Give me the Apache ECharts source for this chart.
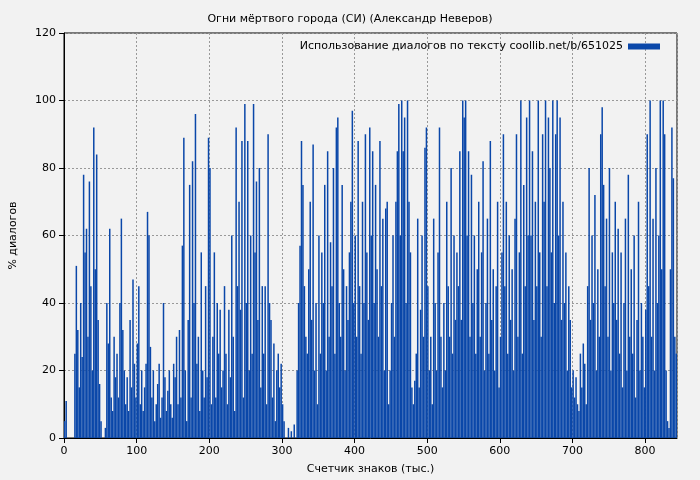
<!DOCTYPE html>
<html><head><meta charset="utf-8">
<script src="https://cdn.jsdelivr.net/npm/echarts@6/dist/echarts.min.js"></script>
<style>html,body{margin:0;background:#f2f2f2}#c{width:700px;height:480px}</style>
</head><body><div id="c"></div>
<script>
const title = "Огни мёртвого города (СИ) (Александр Неверов)";
const seriesName = "Использование диалогов по тексту coollib.net/b/651025";
const xName = "Счетчик знаков (тыс.)";
const yName = "% диалогов";
// values at x = 1,3,5,... (thousand chars), step 2
const values = [
5,11,0,0,0,0,0,25,51,32,
15,40,24,78,55,62,30,76,45,20,
92,50,84,35,16,5,0,0,3,40,
28,62,12,8,30,18,25,12,40,65,
32,20,10,18,8,35,15,47,22,12,
28,45,10,20,8,15,22,67,60,27,
12,20,5,10,16,22,6,12,40,18,
8,14,20,10,6,22,18,30,10,32,
12,57,89,20,5,35,75,12,82,40,
96,22,30,8,55,20,12,45,18,89,
80,10,30,55,12,40,25,38,15,20,
45,25,10,38,18,60,30,8,92,45,
70,38,88,12,99,40,88,20,60,25,
99,55,76,35,80,15,45,25,45,10,
90,40,35,12,28,5,20,25,15,22,
10,5,0,0,3,0,2,0,4,0,
20,40,57,88,75,45,30,25,50,70,
35,87,20,40,10,60,25,55,40,75,
20,85,30,58,45,80,25,92,95,40,
30,75,50,20,45,35,55,70,97,40,
60,30,88,45,25,70,40,90,55,35,
92,60,85,40,75,50,30,88,45,65,
20,68,70,10,20,40,60,30,70,85,
99,60,100,85,95,40,100,70,55,15,
10,17,25,65,15,38,60,30,86,92,
45,20,30,10,65,40,20,55,92,30,
15,40,20,70,45,30,80,25,60,35,
55,45,85,35,100,95,100,60,85,30,
78,40,60,25,50,70,30,55,82,20,
40,65,25,88,35,50,20,45,70,15,
30,55,90,45,70,25,60,35,50,20,
65,90,30,55,100,25,75,45,95,60,
100,60,85,35,70,45,100,55,30,90,
70,100,45,95,80,55,100,40,90,100,
60,95,35,70,40,55,20,45,35,15,
20,12,18,10,8,25,15,28,22,10,
45,80,35,60,40,72,20,50,30,90,
98,75,45,65,30,80,20,55,40,70,
35,62,25,55,15,40,65,20,78,30,
50,25,60,12,35,70,20,40,30,15,
38,90,45,100,30,65,20,80,40,60,
100,50,100,90,20,5,3,50,92,77,
30,25];
const data = values.map((v,i)=>[2*i+1,v]);
const chart = echarts.init(document.getElementById('c'));
chart.setOption({
  backgroundColor:'#f2f2f2',
  animation:false,
  title:{text:title,left:'center',top:9,textStyle:{fontSize:11,fontWeight:'normal',color:'#000',fontFamily:'DejaVu Sans'}},
  legend:{right:35,top:36,align:'right',itemWidth:32,itemHeight:6,itemGap:5,icon:'rect',
    textStyle:{fontSize:11,color:'#000',fontFamily:'DejaVu Sans'},data:[seriesName]},
  grid:{left:61,right:23,top:33,bottom:41,show:true,borderColor:'#000',borderWidth:1,backgroundColor:'#f2f2f2'},
  xAxis:{type:'value',min:0,max:844,interval:100,name:xName,nameLocation:'middle',nameGap:26,
    nameTextStyle:{fontSize:11,color:'#000',fontFamily:'DejaVu Sans'},
    axisLabel:{showMaxLabel:false,fontSize:11,color:'#000',fontFamily:'DejaVu Sans'},
    axisLine:{lineStyle:{color:'#000'}},axisTick:{lineStyle:{color:'#000'}},
    splitLine:{show:true,lineStyle:{color:'#999',type:[2,2]}}},
  yAxis:{type:'value',min:0,max:120,interval:20,name:yName,nameLocation:'middle',nameGap:45,
    nameTextStyle:{fontSize:11,color:'#000',fontFamily:'DejaVu Sans'},
    axisLabel:{fontSize:11,color:'#000',fontFamily:'DejaVu Sans'},
    axisLine:{show:true,lineStyle:{color:'#000'}},axisTick:{show:true,lineStyle:{color:'#000'}},
    splitLine:{show:true,lineStyle:{color:'#999',type:[2,2]}}},
  series:[{name:seriesName,type:'bar',data:data,barWidth:1.5,itemStyle:{color:'#0a47a9'},large:false}]
});
</script></body></html>
